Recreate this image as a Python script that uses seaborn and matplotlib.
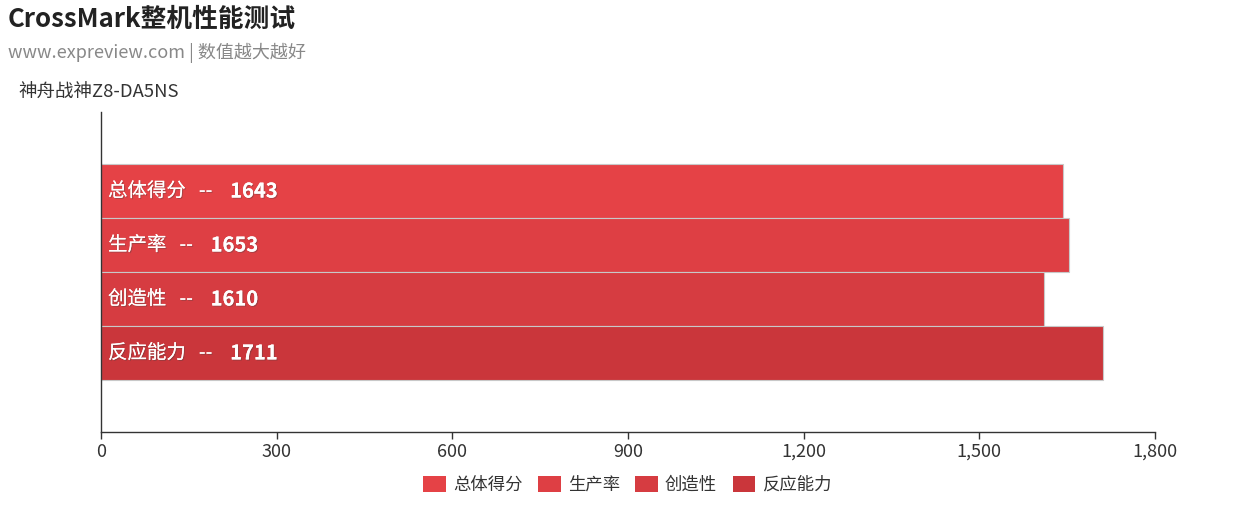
import pandas as pd
import matplotlib.pyplot as plt
import matplotlib.patheffects as pe
from matplotlib.ticker import FuncFormatter
from matplotlib.patches import Patch
import seaborn as sns

# chart data
model = '神舟战神Z8-DA5NS'
series = ['总体得分', '生产率', '创造性', '反应能力']
scores = [1643, 1653, 1610, 1711]
colors = ['#e54246', '#de3f44', '#d63c41', '#ca363b']
xticks = [0, 300, 600, 900, 1200, 1500, 1800]

df = pd.DataFrame({'model': [model] * len(series), 'series': series, 'score': scores})

sns.set_theme(style='white')
plt.rcParams['font.family'] = ['Noto Sans CJK SC', 'DejaVu Sans']

fig = plt.figure(figsize=(12.55, 5.26), dpi=100)
ax = fig.add_axes([101 / 1255, 94 / 526, 1054 / 1255, 320 / 526])

sns.barplot(data=df, x='score', y='model', hue='series', orient='h',
            palette=colors, hue_order=series, width=0.8, saturation=1,
            edgecolor='#c8c8c8', linewidth=0.8, ax=ax)

ax.set_xlim(0, 1800)
ax.set_ylim(0.593, -0.593)
ax.set_xticks(xticks)
ax.xaxis.set_major_formatter(FuncFormatter(lambda v, p: f'{int(v):,}'))
ax.tick_params(axis='x', colors='#333333', labelsize=13, length=5, width=1,
               bottom=True, direction='out', pad=3)
ax.set_yticks([])
ax.set_xlabel('')
ax.set_ylabel('')
for s in ['top', 'right']:
    ax.spines[s].set_visible(False)
for s in ['left', 'bottom']:
    ax.spines[s].set_color('#333333')
    ax.spines[s].set_linewidth(1)

# labels inside bars
shadow = [pe.withSimplePatchShadow(offset=(0.8, -0.8), shadow_rgbFace='#444444', alpha=0.35), pe.Normal()]
for bar, name, val in zip(ax.patches, series, scores):
    yc = bar.get_y() + bar.get_height() / 2
    t = ax.text(12, yc, f'{name}   --    ', color='white', fontsize=14,
                va='center', ha='left', path_effects=shadow)
    ax.annotate(str(val), xy=(1, 0.5), xycoords=t, va='center', ha='left',
                color='white', fontsize=14.5, fontweight='semibold', path_effects=shadow)

ax.get_legend().remove()
handles = [Patch(facecolor=c, edgecolor='none') for c in colors]
fig.legend(handles, series, loc='center', bbox_to_anchor=(0.5, 1 - 485 / 526),
           ncol=4, frameon=False, fontsize=12.5, handlelength=1.3, handleheight=1.0,
           columnspacing=0.9, handletextpad=0.4, labelcolor='#333333')

fig.text(8 / 1255, 1 - 19 / 526, 'CrossMark整机性能测试', fontsize=18.5,
         fontweight='bold', color='#222222', va='center', ha='left')
fig.text(8 / 1255, 1 - 53 / 526, 'www.expreview.com | 数值越大越好', fontsize=13,
         color='#888888', va='center', ha='left')
fig.text(18 / 1255, 1 - 93 / 526, model, fontsize=13.3, color='#333333',
         va='center', ha='left')

fig.savefig('out.png', dpi=100)
